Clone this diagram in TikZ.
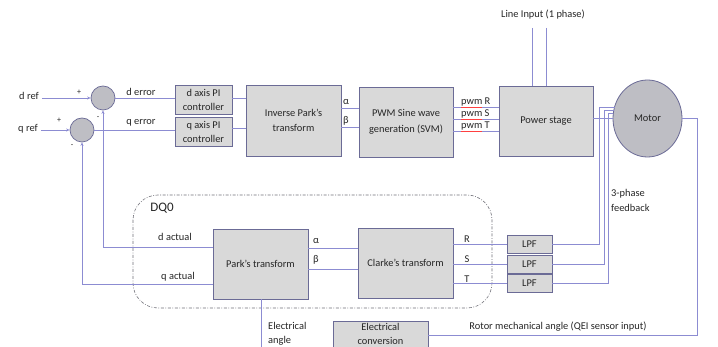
\documentclass[tikz,border=0pt]{standalone}
\usepackage{fontspec}
\setmainfont{Carlito}
\usetikzlibrary{arrows.meta,shapes.geometric}
\definecolor{lnc}{HTML}{8C8CD2}
\definecolor{bdc}{HTML}{6B6B96}
\definecolor{bxf}{HTML}{D9D9D9}
\definecolor{cif}{HTML}{BEBEC4}
\definecolor{txc}{HTML}{262626}
\definecolor{dqc}{HTML}{707078}
\begin{document}
\begin{tikzpicture}[x=1pt,y=-1pt,
  font=\fontsize{10.4}{15}\selectfont, text=txc,
  blk/.style={draw=bdc, fill=bxf, line width=0.8pt, inner sep=0pt, align=center},
  sumc/.style={circle, draw=bdc, fill=cif, line width=0.7pt, minimum size=24pt, inner sep=0pt},
  wire/.style={draw=lnc, line width=0.8pt},
  arr/.style={wire, -{Stealth[length=3.5pt,width=3pt]}},
  lbl/.style={inner sep=0pt},
  sgn/.style={inner sep=0pt, font=\fontsize{8}{9}\selectfont},
]
\useasboundingbox (0,0) rectangle (718,347);
\clip (0,0) rectangle (718,347);
\fill[white] (0,0) rectangle (718,347);

% summing junctions
\node[sumc] (dc) at (103,98) {};
\node[sumc] (qc) at (82,130) {};

% blocks
\node[blk, minimum width=57pt, minimum height=29pt, font=\fontsize{10.4}{14}\selectfont] (dpi) at (203.5,99.5) {d axis PI\\controller};
\node[blk, minimum width=57pt, minimum height=29pt, font=\fontsize{10.4}{14}\selectfont] (qpi) at (203.5,131.5) {q axis PI\\controller};
\node[blk, minimum width=95pt, minimum height=71pt] (ipark) at (293.5,120.5) {Inverse Park's\\transform};
\node[blk, minimum width=94pt, minimum height=70pt, font=\fontsize{10.4}{16.5}\selectfont] (pwm) at (406,122) {PWM Sine wave\\generation (SVM)};
\node[blk, minimum width=94pt, minimum height=70pt] (pstage) at (546,121) {Power stage};
\node[ellipse, draw=bdc, fill=cif, line width=0.8pt, minimum width=69pt, minimum height=77pt, inner sep=0pt] (motor) at (647.5,118.5) {Motor};
\node[blk, minimum width=95pt, minimum height=70pt] (park) at (260.5,264) {Park's transform};
\node[blk, minimum width=95pt, minimum height=70pt] (clarke) at (405.5,263) {Clarke's transform};
\node[blk, minimum width=45pt, minimum height=18pt] (lpfr) at (529.5,244.5) {LPF};
\node[blk, minimum width=45pt, minimum height=18pt] (lpfs) at (529.5,264) {LPF};
\node[blk, minimum width=45pt, minimum height=18pt] (lpft) at (529.5,283) {LPF};
\node[blk, minimum width=95pt, minimum height=36pt] (econv) at (380.5,339) {};
\node[lbl, align=center, font=\fontsize{10.4}{14}\selectfont] (econvt) at (380.5,334) {Electrical\\conversion};

% DQ0 frame
\draw[dqc, line width=0.6pt, dash pattern=on 3pt off 1.6pt on 0.8pt off 1.6pt, rounded corners=25pt] (133,195) rectangle (492,308);
\node[lbl, font=\fontsize{13}{15}\selectfont] (dq0) at (162,208) {DQ0};

% input labels
\node[lbl] (dref) at (29,96) {d ref};
\node[lbl] (qref) at (28,129) {q ref};
\node[sgn] (p1) at (79,92) {+};
\node[sgn] (p2) at (59,120) {+};
\node[sgn] (m1s) at (98,118) {-};
\node[sgn] (m2s) at (72,146) {-};
\draw[arr] ([xshift=3pt]dref.east |- dc.west) -- (dc.west);
\draw[arr] ([xshift=3pt]qref.east |- qc.west) -- (qc.west);

% errors
\node[lbl] (derr) at (141,92) {d error};
\node[lbl] (qerr) at (141,123) {q error};
\draw[wire] (dc.east) -- (dpi.west |- dc.east);
\draw[wire] (qc.east) -- (qpi.west |- qc.east);

% PI -> inverse Park
\draw[wire] (dpi.east |- 0,98) -- (ipark.west |- 0,98);
\draw[wire] (qpi.east |- 0,128) -- (ipark.west |- 0,128);

% inverse Park -> PWM
\node[lbl] (al1) at (346,102) {α};
\node[lbl] (be1) at (346,121) {β};
\draw[wire] (ipark.east |- 0,108) -- (pwm.west |- 0,108);
\draw[wire] (ipark.east |- 0,127) -- (pwm.west |- 0,127);

% PWM -> power stage
\draw[wire] (pwm.east |- 0,107) -- (pstage.west |- 0,107);
\draw[wire] (pwm.east |- 0,119) -- (pstage.west |- 0,119);
\draw[wire] (pwm.east |- 0,131) -- (pstage.west |- 0,131);
\draw[red!75, line width=0.6pt] (461,107.5) -- (482,107.5);
\draw[red!75, line width=0.6pt] (461,119.5) -- (482,119.5);
\draw[red!75, line width=0.6pt] (461,131.5) -- (482,131.5);
\node[lbl, anchor=base west] (pr) at (461,104.5) {pwm R};
\node[lbl, anchor=base west] (ps) at (461,116.5) {pwm S};
\node[lbl, anchor=base west] (pt) at (461,128.5) {pwm T};

% line input
\node[lbl] (lin) at (543,15) {Line Input (1 phase)};
\coordinate (li1) at (532,28);
\coordinate (li2) at (546,28);
\draw[wire] (li1) -- (pstage.north -| li1);
\draw[wire] (li2) -- (pstage.north -| li2);

% power stage -> motor
\draw[wire] (pstage.east |- motor.west) -- (motor.west);

% 3-phase feedback
\coordinate (mo1) at (614.6,107);
\coordinate (mo2) at (613.9,110);
\coordinate (mo3) at (613.4,113);
\coordinate (f1) at (599,107);
\coordinate (f2) at (604,110);
\coordinate (f3) at (608,113);
\draw[wire] (mo1) -- (f1) |- (lpfr.east);
\draw[wire] (mo2) -- (f2) |- (lpfs.east);
\draw[wire] (mo3) -- (f3) |- (lpft.east);
\node[lbl, anchor=west, align=left] (fbk) at (611,200) {3-phase\\feedback};

% LPF -> Clarke
\node[lbl] (rl) at (467,239) {R};
\node[lbl] (sl) at (467,259) {S};
\node[lbl] (tl) at (467,279) {T};
\draw[wire] (clarke.east |- lpfr.west) -- (lpfr.west);
\draw[wire] (clarke.east |- lpfs.west) -- (lpfs.west);
\draw[wire] (clarke.east |- lpft.west) -- (lpft.west);

% Clarke -> Park
\node[lbl] (al2) at (316,241) {α};
\node[lbl] (be2) at (316,260) {β};
\draw[wire] (park.east |- 0,248) -- (clarke.west |- 0,248);
\draw[wire] (park.east |- 0,269) -- (clarke.west |- 0,269);

% Park -> summing junctions
\node[lbl] (dact) at (175,237) {d actual};
\node[lbl] (qact) at (178,277) {q actual};
\draw[arr] (park.west |- 0,247) -| (dc.south);
\draw[arr] (park.west |- 0,284) -| (qc.south);

% electrical angle
\coordinate (ea) at (261,347);
\draw[wire] (park.south -| ea) -- (ea);
\node[lbl, anchor=west, align=left, font=\fontsize{10.4}{14}\selectfont] (eal) at (268,334) {Electrical\\angle};

% rotor angle
\coordinate (r1) at (697,118.5);
\draw[wire] (motor.east) -- (r1) |- (econv.east |- 0,335);
\node[lbl] (rot) at (558,327) {Rotor mechanical angle (QEI sensor input)};
\end{tikzpicture}
\end{document}
